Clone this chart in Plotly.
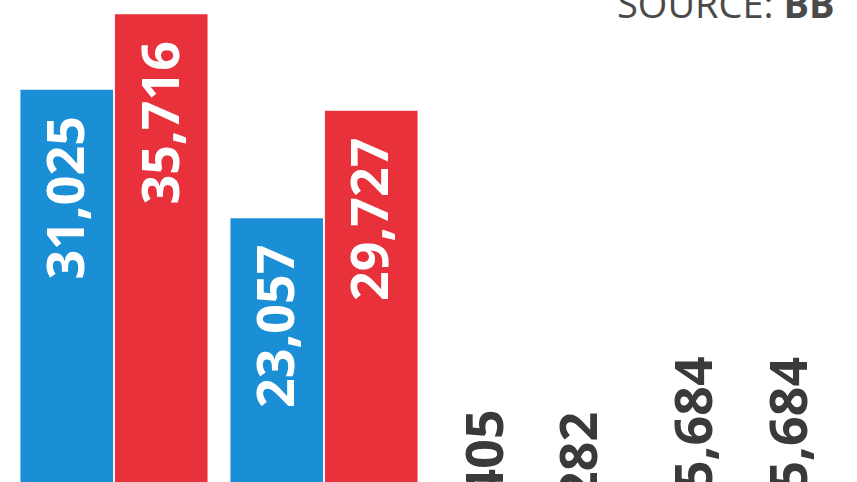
import plotly.graph_objects as go

# ---- data ----
categories = ["Group 1", "Group 2", "Group 3", "Group 4"]
blue_values = [31025, 23057, 2405, 5684]
red_values = [35716, 29727, 2282, 5684]
source_text = "SOURCE: <b>BB</b>"

BLUE = "#1A8FD6"
RED = "#E8313A"
DARK = "#3A3A3A"
FONT = "Open Sans"

BARGAP = 0.10
BARGROUPGAP = 0.02
Y_MAX = 36600

fig = go.Figure()
fig.add_trace(go.Bar(x=categories, y=blue_values, marker=dict(color=BLUE, line=dict(width=0)),
                     name="blue", hoverinfo="skip"))
fig.add_trace(go.Bar(x=categories, y=red_values, marker=dict(color=RED, line=dict(width=0)),
                     name="red", hoverinfo="skip"))

annotations = []
slot = (1 - BARGAP) / 2
for series_idx, values in enumerate([blue_values, red_values]):
    offset = -slot / 2 if series_idx == 0 else slot / 2
    for i, v in enumerate(values):
        label = f"{v:,}"
        inside = v > 15000
        annotations.append(dict(
            x=i + offset, y=v, xref="x", yref="y",
            text=f"<b>{label}</b>", showarrow=False, textangle=-90,
            font=dict(family=FONT, size=52, color="white" if inside else DARK),
            yanchor="top" if inside else "bottom",
            yshift=-24 if inside else 6,
            xshift=-3 if inside else -5,
        ))

annotations.append(dict(
    x=1, y=1, xref="paper", yref="paper", xanchor="right", yanchor="middle",
    text=source_text, showarrow=False, xshift=-12, yshift=-3,
    font=dict(family=FONT, size=38, color="#4A4A4A"),
))

fig.update_layout(
    width=857, height=590,
    margin=dict(l=9, r=8, t=0, b=0),
    barmode="group", bargap=BARGAP, bargroupgap=BARGROUPGAP,
    plot_bgcolor="white", paper_bgcolor="white",
    showlegend=False,
    xaxis=dict(visible=False, type="category"),
    yaxis=dict(visible=False, range=[0, Y_MAX]),
    annotations=annotations,
)

fig.write_html(
    "out.html",
    config={"displayModeBar": False},
    post_script="document.body.style.margin='0';document.body.style.overflow='hidden';document.documentElement.style.overflow='hidden';",
)
